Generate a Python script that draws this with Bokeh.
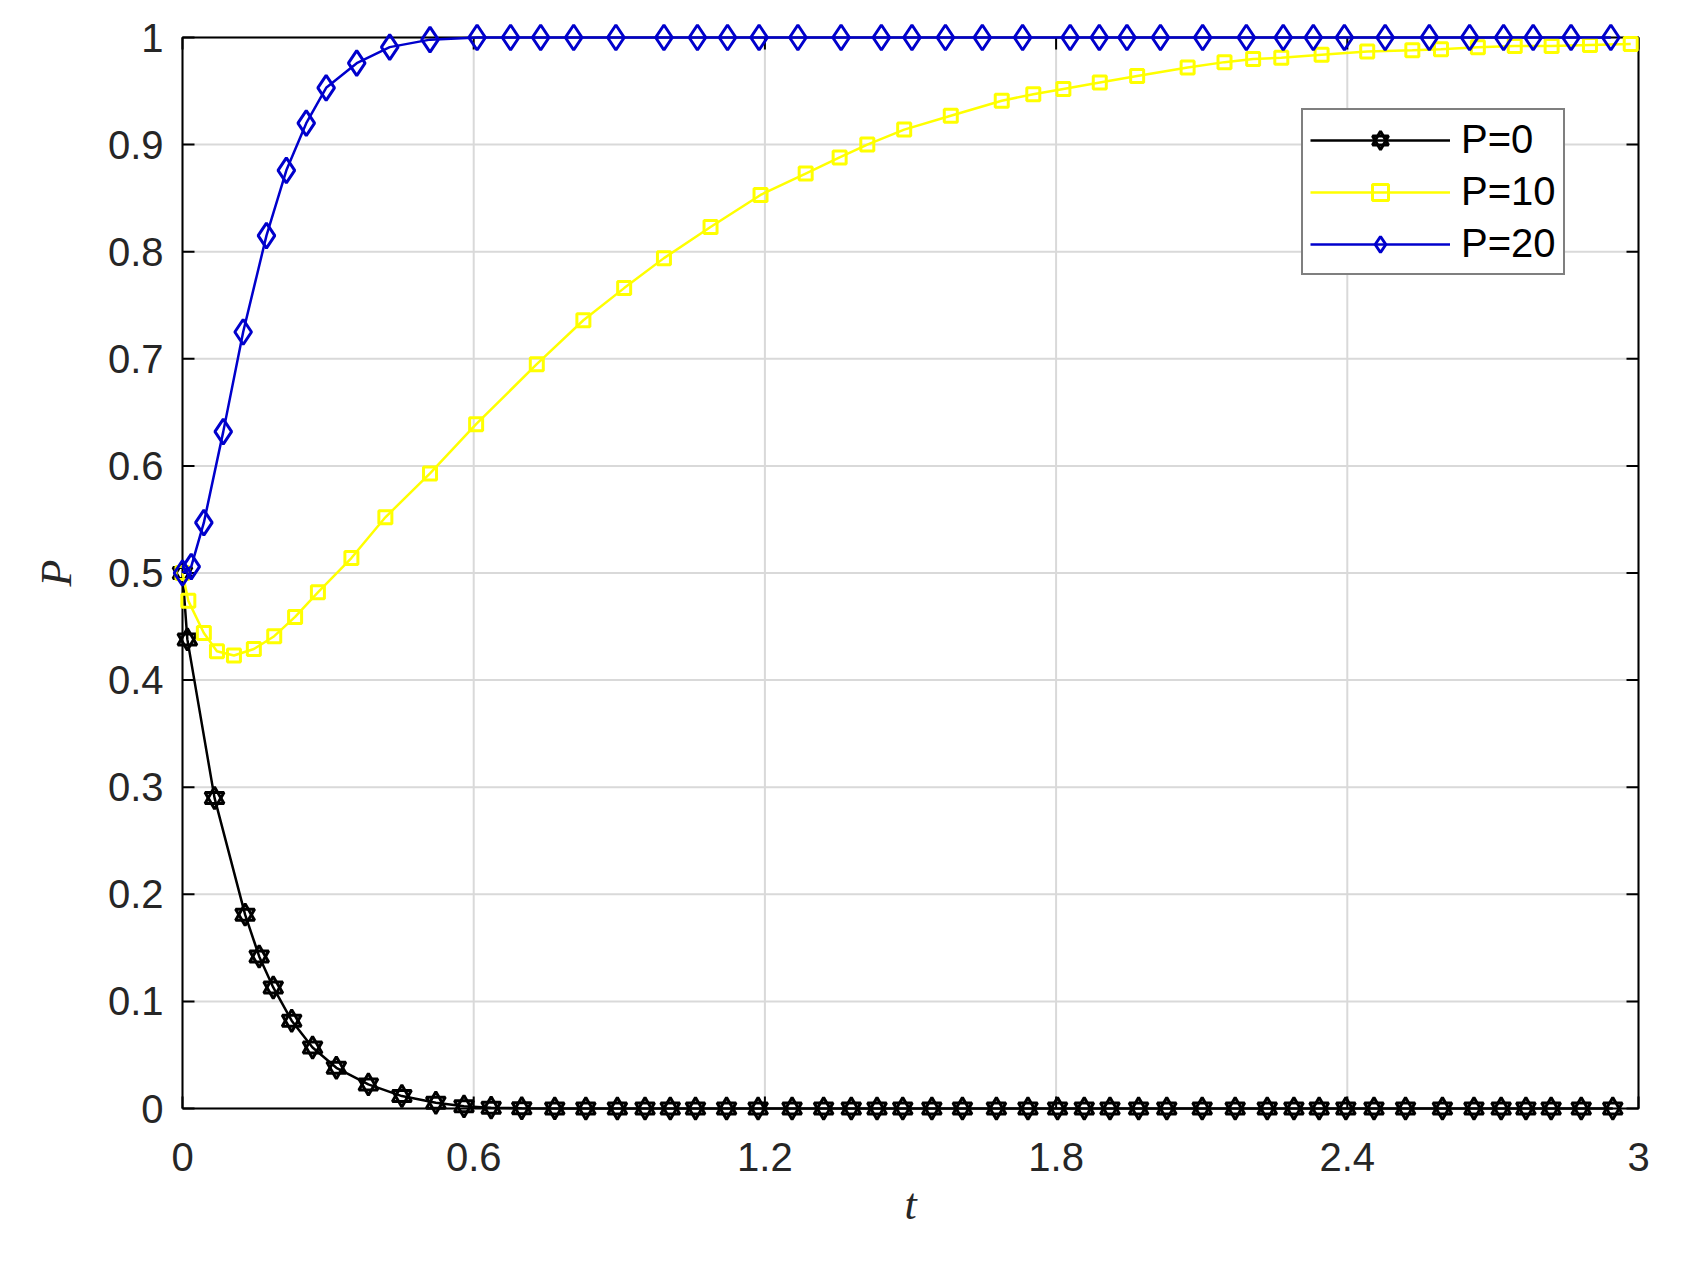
from bokeh.plotting import figure
from bokeh.models import Range1d, FixedTicker, Legend, LegendItem
from bokeh.embed import file_html
from bokeh.resources import INLINE

# ---- data ----
t_p0 = [0, 0.010, 0.066, 0.129, 0.158, 0.187, 0.225, 0.268, 0.317, 0.383, 0.452, 0.522,
        0.580, 0.636, 0.699, 0.767, 0.831, 0.896, 0.953, 1.005, 1.057, 1.121, 1.186, 1.256,
        1.321, 1.378, 1.431, 1.484, 1.544, 1.607, 1.677, 1.742, 1.803, 1.858, 1.911, 1.970,
        2.028, 2.101, 2.169, 2.235, 2.290, 2.342, 2.397, 2.455, 2.520, 2.596, 2.661, 2.717,
        2.768, 2.820, 2.882, 2.947]
p_p0 = [0.5, 0.438, 0.290, 0.181, 0.142, 0.113, 0.082, 0.057, 0.038, 0.0225, 0.0116, 0.0053,
        0.002, 0.0008, 0.0003, 0.0001, 0, 0, 0, 0, 0, 0, 0, 0,
        0, 0, 0, 0, 0, 0, 0, 0, 0, 0, 0, 0,
        0, 0, 0, 0, 0, 0, 0, 0, 0, 0, 0, 0,
        0, 0, 0, 0]

t_p10 = [0, 0.012, 0.044, 0.071, 0.106, 0.147, 0.189, 0.232, 0.279, 0.348, 0.418, 0.510,
         0.605, 0.730, 0.826, 0.910, 0.992, 1.088, 1.191, 1.284, 1.354, 1.411, 1.487, 1.583,
         1.688, 1.753, 1.815, 1.890, 1.967, 2.071, 2.147, 2.206, 2.264, 2.347, 2.441, 2.534,
         2.593, 2.669, 2.745, 2.821, 2.900, 2.984]
p_p10 = [0.5, 0.474, 0.444, 0.427, 0.423, 0.429, 0.441, 0.459, 0.482, 0.514, 0.552, 0.593,
         0.639, 0.695, 0.736, 0.766, 0.794, 0.823, 0.853, 0.873, 0.888, 0.900, 0.914, 0.927,
         0.941, 0.947, 0.952, 0.958, 0.964, 0.972, 0.977, 0.980, 0.981, 0.984, 0.987, 0.988,
         0.989, 0.991, 0.992, 0.992, 0.993, 0.994]

t_p20 = [0, 0.018, 0.044, 0.084, 0.125, 0.173, 0.214, 0.255, 0.296, 0.359, 0.427, 0.510,
         0.607, 0.676, 0.738, 0.806, 0.893, 0.992, 1.061, 1.123, 1.188, 1.268, 1.357, 1.440,
         1.503, 1.572, 1.648, 1.731, 1.829, 1.889, 1.946, 2.015, 2.102, 2.192, 2.268, 2.330,
         2.394, 2.478, 2.569, 2.652, 2.722, 2.783, 2.861, 2.943]
p_p20 = [0.5, 0.506, 0.547, 0.632, 0.725, 0.815, 0.876, 0.920, 0.953, 0.976, 0.991, 0.998,
         1.0, 1.0, 1.0, 1.0, 1.0, 1.0, 1.0, 1.0, 1.0, 1.0, 1.0, 1.0,
         1.0, 1.0, 1.0, 1.0, 1.0, 1.0, 1.0, 1.0, 1.0, 1.0, 1.0, 1.0,
         1.0, 1.0, 1.0, 1.0, 1.0, 1.0, 1.0, 1.0]

x_ticks = [0, 0.6, 1.2, 1.8, 2.4, 3]
x_tick_labels = ["0", "0.6", "1.2", "1.8", "2.4", "3"]
y_ticks = [0, 0.1, 0.2, 0.3, 0.4, 0.5, 0.6, 0.7, 0.8, 0.9, 1.0]
y_tick_labels = ["0", "0.1", "0.2", "0.3", "0.4", "0.5", "0.6", "0.7", "0.8", "0.9", "1"]
series_labels = ["P=0", "P=10", "P=20"]
X_MIN, X_MAX = 0, 3
Y_MIN, Y_MAX = 0, 1

# ---- styling / layout ----
SANS = "Liberation Sans"
SERIF = "Liberation Serif"
TXT = "#262626"
FS = "40px"
BLACK = "#000000"
YELLOW = "#ffff00"
BLUE = "#0000cc"
GRID = "#d9d9d9"

W, H = 1666, 1255
BOX_W, BOX_H = 1456, 1071        # axes box in pixels
PAD = 14                         # room so markers on the box edges are not clipped
TICK = 12                        # inward tick length in px
BOX_LEFT, BOX_TOP = 182, 37

fx = (X_MAX - X_MIN) / BOX_W     # data units per pixel
fy = (Y_MAX - Y_MIN) / BOX_H

p = figure(width=W, height=H, output_backend="svg", toolbar_location=None,
           x_range=Range1d(X_MIN - PAD * fx, X_MAX + PAD * fx),
           y_range=Range1d(Y_MIN - PAD * fy, Y_MAX + PAD * fy),
           min_border_left=BOX_LEFT - PAD,
           min_border_right=W - (BOX_LEFT + BOX_W + PAD),
           min_border_top=BOX_TOP - PAD,
           min_border_bottom=H - (BOX_TOP + BOX_H + PAD))
p.background_fill_color = "white"
p.border_fill_color = "white"
p.outline_line_color = None
p.xgrid.visible = False
p.ygrid.visible = False

xa = p.xaxis[0]
ya = p.yaxis[0]
for ax, ticks, labels in ((xa, x_ticks, x_tick_labels), (ya, y_ticks, y_tick_labels)):
    ax.ticker = FixedTicker(ticks=ticks)
    ax.major_label_overrides = {t: l for t, l in zip(ticks, labels)}
    ax.axis_line_color = None
    ax.major_tick_line_color = None
    ax.minor_tick_line_color = None
    ax.major_tick_in = 0
    ax.major_tick_out = 0
    ax.major_label_text_font = SANS
    ax.major_label_text_font_size = FS
    ax.major_label_text_color = TXT
    ax.axis_label_text_font = SERIF
    ax.axis_label_text_font_style = "italic"
    ax.axis_label_text_font_size = "44px"
    ax.axis_label_text_color = TXT
xa.major_label_standoff = 20
ya.major_label_standoff = 5
xa.axis_label = "t"
ya.axis_label = "P"
xa.axis_label_standoff = 6
ya.axis_label_standoff = 24

# grid lines inside the box
p.segment(x0=x_ticks, y0=[Y_MIN] * len(x_ticks), x1=x_ticks, y1=[Y_MAX] * len(x_ticks),
          line_color=GRID, line_width=2)
p.segment(x0=[X_MIN] * len(y_ticks), y0=y_ticks, x1=[X_MAX] * len(y_ticks), y1=y_ticks,
          line_color=GRID, line_width=2)

# axes box
p.line([X_MIN, X_MAX, X_MAX, X_MIN, X_MIN], [Y_MIN, Y_MIN, Y_MAX, Y_MAX, Y_MIN],
       line_color="black", line_width=2)

# inward ticks on all four sides
nx, ny = len(x_ticks), len(y_ticks)
p.segment(x0=x_ticks, y0=[Y_MIN] * nx, x1=x_ticks, y1=[Y_MIN + TICK * fy] * nx,
          line_color="black", line_width=2)
p.segment(x0=x_ticks, y0=[Y_MAX] * nx, x1=x_ticks, y1=[Y_MAX - TICK * fy] * nx,
          line_color="black", line_width=2)
p.segment(x0=[X_MIN] * ny, y0=y_ticks, x1=[X_MIN + TICK * fx] * ny, y1=y_ticks,
          line_color="black", line_width=2)
p.segment(x0=[X_MAX] * ny, y0=y_ticks, x1=[X_MAX - TICK * fx] * ny, y1=y_ticks,
          line_color="black", line_width=2)

# P=0 : black line with hexagram markers (two overlapping triangles)
l0 = p.line(t_p0, p_p0, line_color=BLACK, line_width=2.5)
m0a = p.scatter(t_p0, p_p0, marker="triangle", size=19, fill_color=None,
                line_color=BLACK, line_width=3)
m0b = p.scatter(t_p0, p_p0, marker="inverted_triangle", size=19, fill_color=None,
                line_color=BLACK, line_width=3)

# P=10 : yellow line with square markers
l1 = p.line(t_p10, p_p10, line_color=YELLOW, line_width=2.5)
m1 = p.scatter(t_p10, p_p10, marker="square", size=13, fill_color=None,
               line_color=YELLOW, line_width=3)

# P=20 : blue line with diamond markers
l2 = p.line(t_p20, p_p20, line_color=BLUE, line_width=2.5)
m2 = p.scatter(t_p20, p_p20, marker="diamond", size=25, fill_color=None,
               line_color=BLUE, line_width=3)

legend = Legend(items=[
    LegendItem(label=series_labels[0], renderers=[l0, m0a, m0b]),
    LegendItem(label=series_labels[1], renderers=[l1, m1]),
    LegendItem(label=series_labels[2], renderers=[l2, m2]),
])
legend.location = (1133, 847)
legend.margin = 0
legend.border_line_color = "black"
legend.border_line_width = 2.5
legend.background_fill_color = "white"
legend.background_fill_alpha = 1
legend.glyph_width = 140
legend.glyph_height = 40
legend.label_height = 40
legend.spacing = 7
legend.padding = 7
legend.label_standoff = 11
legend.label_text_font = SANS
legend.label_text_font_size = FS
legend.label_text_color = "black"
p.add_layout(legend, "center")

open("out.html", "w").write(file_html(p, INLINE))
